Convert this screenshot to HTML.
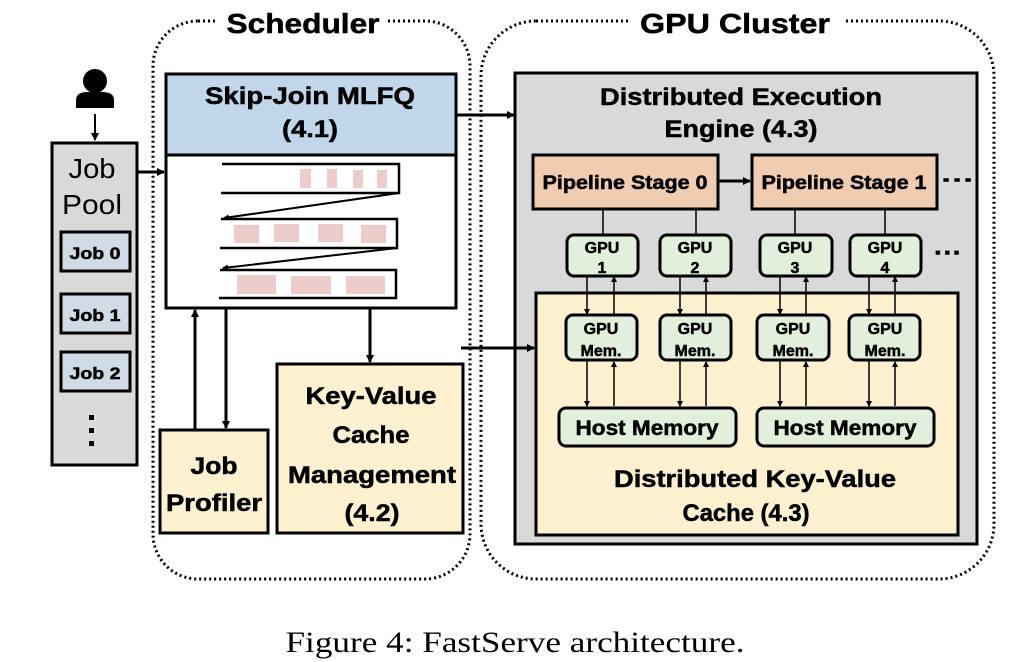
<!DOCTYPE html>
<html><head><meta charset="utf-8"><style>
html,body{margin:0;padding:0;background:#fff;width:1030px;height:662px;overflow:hidden}
svg text{font-family:"Liberation Sans",sans-serif;font-weight:bold;fill:#000;stroke:#000;stroke-width:0.5}
</style></head><body>
<svg width="1030" height="662" viewBox="0 0 1030 662" xmlns="http://www.w3.org/2000/svg">
<defs>
<marker id="a" markerWidth="8" markerHeight="8" refX="7" refY="4" orient="auto" markerUnits="userSpaceOnUse"><path d="M0,0 L8,4 L0,8 z" fill="#000"/></marker>
<marker id="s" markerWidth="6" markerHeight="6" refX="5" refY="3" orient="auto" markerUnits="userSpaceOnUse"><path d="M0,0 L6,3 L0,6 z" fill="#000"/></marker>
</defs>
<rect x="153" y="21" width="317" height="558" rx="45" fill="none" stroke="#000" stroke-width="3" stroke-dasharray="2,3"/>
<rect x="481" y="21" width="513" height="558" rx="55" fill="none" stroke="#000" stroke-width="3" stroke-dasharray="2,3"/>
<rect x="218" y="4" width="170" height="34" fill="#fff"/>
<rect x="628" y="4" width="216" height="34" fill="#fff"/>
<text x="303" y="33" font-size="28" text-anchor="middle" textLength="153" lengthAdjust="spacingAndGlyphs">Scheduler</text>
<text x="735" y="33" font-size="28" text-anchor="middle" textLength="190" lengthAdjust="spacingAndGlyphs">GPU Cluster</text>

<circle cx="95" cy="81" r="12" fill="#000"/>
<path d="M76,108 L76,100 Q76,92 88,92 L102,92 Q114,92 114,100 L114,108 Z" fill="#000"/>
<line x1="95" y1="114" x2="95" y2="140" stroke="#000" stroke-width="2" marker-end="url(#a)"/>

<rect x="52" y="143" width="85" height="322" fill="#d9d9d9" stroke="#000" stroke-width="3"/>
<text x="92" y="178" font-size="28" text-anchor="middle" style="font-weight:normal;stroke-width:0" textLength="47" lengthAdjust="spacingAndGlyphs">Job</text>
<text x="92" y="214" font-size="28" text-anchor="middle" style="font-weight:normal;stroke-width:0" textLength="60" lengthAdjust="spacingAndGlyphs">Pool</text>
<rect x="61" y="232" width="69" height="39" fill="#d0dbe6" stroke="#000" stroke-width="3"/>
<text x="95" y="259" font-size="17" text-anchor="middle" textLength="51" lengthAdjust="spacingAndGlyphs">Job 0</text>
<rect x="61" y="294" width="69" height="39" fill="#d0dbe6" stroke="#000" stroke-width="3"/>
<text x="95" y="321" font-size="17" text-anchor="middle" textLength="51" lengthAdjust="spacingAndGlyphs">Job 1</text>
<rect x="61" y="352" width="69" height="39" fill="#d0dbe6" stroke="#000" stroke-width="3"/>
<text x="95" y="379" font-size="17" text-anchor="middle" textLength="51" lengthAdjust="spacingAndGlyphs">Job 2</text>
<rect x="89" y="415" width="5" height="5" fill="#000"/>
<rect x="89" y="428" width="5" height="5" fill="#000"/>
<rect x="89" y="441" width="5" height="5" fill="#000"/>
<line x1="137" y1="172" x2="164" y2="172" stroke="#000" stroke-width="3" marker-end="url(#a)"/>

<rect x="166" y="74" width="290" height="234" fill="#fff" stroke="#000" stroke-width="3"/>
<rect x="166" y="74" width="290" height="81" fill="#c1d6ea" stroke="#000" stroke-width="3"/>
<text x="310" y="104" font-size="24" text-anchor="middle" textLength="210" lengthAdjust="spacingAndGlyphs">Skip-Join MLFQ</text>
<text x="310" y="137" font-size="24" text-anchor="middle" textLength="56" lengthAdjust="spacingAndGlyphs">(4.1)</text>
<g fill="#eccdcc">
<rect x="300" y="169" width="11" height="19"/><rect x="327" y="169" width="10" height="19"/><rect x="353" y="170" width="10" height="18"/><rect x="377" y="170" width="10" height="18"/>
<rect x="234" y="225" width="25" height="18"/><rect x="274" y="224" width="25" height="18"/><rect x="318" y="224" width="25" height="18"/><rect x="361" y="225" width="25" height="18"/>
<rect x="237" y="275" width="39" height="19"/><rect x="291" y="276" width="40" height="18"/><rect x="346" y="276" width="39" height="18"/>
</g>
<g fill="none" stroke="#000" stroke-width="2.5">
<path d="M222,164 L399,164 L399,193 L221,193"/>
<path d="M221,219 L397,219 L397,248 L220,248"/>
<path d="M220,270 L396,270 L396,298 L219,298"/>
</g>
<line x1="399" y1="193" x2="224" y2="218" stroke="#000" stroke-width="2" marker-end="url(#s)"/>
<line x1="397" y1="248" x2="223" y2="268" stroke="#000" stroke-width="2" marker-end="url(#s)"/>

<line x1="195" y1="430" x2="195" y2="310" stroke="#000" stroke-width="3" marker-end="url(#a)"/>
<line x1="226" y1="309" x2="226" y2="428" stroke="#000" stroke-width="3" marker-end="url(#a)"/>
<line x1="370" y1="309" x2="370" y2="362" stroke="#000" stroke-width="3" marker-end="url(#a)"/>

<rect x="160" y="430" width="108" height="103" fill="#fdf1d0" stroke="#000" stroke-width="3"/>
<text x="214" y="474" font-size="24" text-anchor="middle" textLength="47" lengthAdjust="spacingAndGlyphs">Job</text>
<text x="214" y="511" font-size="24" text-anchor="middle" textLength="96" lengthAdjust="spacingAndGlyphs">Profiler</text>
<rect x="277" y="364" width="186" height="169" fill="#fdf1d0" stroke="#000" stroke-width="3"/>
<text x="371" y="404" font-size="24" text-anchor="middle" textLength="131" lengthAdjust="spacingAndGlyphs">Key-Value</text>
<text x="371" y="443" font-size="24" text-anchor="middle" textLength="77" lengthAdjust="spacingAndGlyphs">Cache</text>
<text x="372" y="483" font-size="24" text-anchor="middle" textLength="168" lengthAdjust="spacingAndGlyphs">Management</text>
<text x="372" y="521" font-size="24" text-anchor="middle" textLength="55" lengthAdjust="spacingAndGlyphs">(4.2)</text>

<line x1="457" y1="115" x2="514" y2="115" stroke="#000" stroke-width="3" marker-end="url(#a)"/>

<rect x="515" y="73" width="462" height="471" fill="#d9d9d9" stroke="#000" stroke-width="3"/>
<text x="741" y="105" font-size="24" text-anchor="middle" textLength="282" lengthAdjust="spacingAndGlyphs">Distributed Execution</text>
<text x="741" y="137" font-size="24" text-anchor="middle" textLength="153" lengthAdjust="spacingAndGlyphs">Engine (4.3)</text>
<rect x="536" y="293" width="422" height="242" fill="#fdf1d0" stroke="#000" stroke-width="3"/>
<line x1="461" y1="348" x2="534" y2="348" stroke="#000" stroke-width="3" marker-end="url(#a)"/>

<rect x="533" y="155" width="185" height="54" fill="#f0cdb1" stroke="#000" stroke-width="3"/>
<text x="625" y="189" font-size="19" text-anchor="middle" textLength="165" lengthAdjust="spacingAndGlyphs">Pipeline Stage 0</text>
<rect x="752" y="155" width="185" height="54" fill="#f0cdb1" stroke="#000" stroke-width="3"/>
<text x="844" y="189" font-size="19" text-anchor="middle" textLength="165" lengthAdjust="spacingAndGlyphs">Pipeline Stage 1</text>
<line x1="718" y1="181" x2="750" y2="181" stroke="#000" stroke-width="3" marker-end="url(#a)"/>
<text x="958" y="187" font-size="20" text-anchor="middle" textLength="33" lengthAdjust="spacingAndGlyphs">···</text>
<text x="948" y="261" font-size="24" text-anchor="middle" textLength="28" lengthAdjust="spacingAndGlyphs">···</text>

<g stroke="#000" stroke-width="1.5">
<line x1="603" y1="209" x2="603" y2="235"/><line x1="696" y1="209" x2="696" y2="235"/>
<line x1="795" y1="209" x2="795" y2="235"/><line x1="885" y1="209" x2="885" y2="235"/>
</g>

<g fill="#e2efda" stroke="#000" stroke-width="3">
<rect x="567" y="235" width="71" height="41" rx="7"/><rect x="660" y="235" width="71" height="41" rx="7"/>
<rect x="760" y="235" width="72" height="41" rx="7"/><rect x="850" y="235" width="71" height="41" rx="7"/>
<rect x="566" y="315" width="71" height="45" rx="7"/><rect x="660" y="315" width="71" height="45" rx="7"/>
<rect x="757" y="315" width="72" height="45" rx="7"/><rect x="849" y="315" width="71" height="45" rx="7"/>
<rect x="559" y="408" width="177" height="38" rx="7"/><rect x="757" y="408" width="177" height="38" rx="7"/>
</g>
<g font-size="16" text-anchor="middle">
<text x="602" y="253">GPU</text><text x="602" y="273">1</text>
<text x="695" y="253">GPU</text><text x="695" y="273">2</text>
<text x="795" y="253">GPU</text><text x="795" y="273">3</text>
<text x="885" y="253">GPU</text><text x="885" y="273">4</text>
<text x="601" y="334">GPU</text><text x="601" y="356">Mem.</text>
<text x="695" y="334">GPU</text><text x="695" y="356">Mem.</text>
<text x="793" y="334">GPU</text><text x="793" y="356">Mem.</text>
<text x="885" y="334">GPU</text><text x="885" y="356">Mem.</text>
</g>
<text x="647" y="435" font-size="21" text-anchor="middle" textLength="143" lengthAdjust="spacingAndGlyphs">Host Memory</text>
<text x="845" y="435" font-size="21" text-anchor="middle" textLength="143" lengthAdjust="spacingAndGlyphs">Host Memory</text>

<g stroke="#000" stroke-width="1.5">
<line x1="587" y1="276" x2="587" y2="314" marker-end="url(#s)"/><line x1="614" y1="315" x2="614" y2="277" marker-end="url(#s)"/>
<line x1="680" y1="276" x2="680" y2="314" marker-end="url(#s)"/><line x1="706" y1="315" x2="706" y2="277" marker-end="url(#s)"/>
<line x1="780" y1="276" x2="780" y2="314" marker-end="url(#s)"/><line x1="806" y1="315" x2="806" y2="277" marker-end="url(#s)"/>
<line x1="869" y1="276" x2="869" y2="314" marker-end="url(#s)"/><line x1="895" y1="315" x2="895" y2="277" marker-end="url(#s)"/>
<line x1="587" y1="360" x2="587" y2="406" marker-end="url(#s)"/><line x1="614" y1="406" x2="614" y2="362" marker-end="url(#s)"/>
<line x1="680" y1="360" x2="680" y2="406" marker-end="url(#s)"/><line x1="706" y1="406" x2="706" y2="362" marker-end="url(#s)"/>
<line x1="780" y1="360" x2="780" y2="406" marker-end="url(#s)"/><line x1="806" y1="406" x2="806" y2="362" marker-end="url(#s)"/>
<line x1="869" y1="360" x2="869" y2="406" marker-end="url(#s)"/><line x1="895" y1="406" x2="895" y2="362" marker-end="url(#s)"/>
</g>
<text x="755" y="487" font-size="24" text-anchor="middle" textLength="282" lengthAdjust="spacingAndGlyphs">Distributed Key-Value</text>
<text x="746" y="521" font-size="24" text-anchor="middle" textLength="127" lengthAdjust="spacingAndGlyphs">Cache (4.3)</text>

<text x="515" y="652" font-size="30" text-anchor="middle" style="font-family:'Liberation Serif',serif;font-weight:normal;stroke-width:0" textLength="459" lengthAdjust="spacingAndGlyphs">Figure 4: FastServe architecture.</text>
</svg>
</body></html>
